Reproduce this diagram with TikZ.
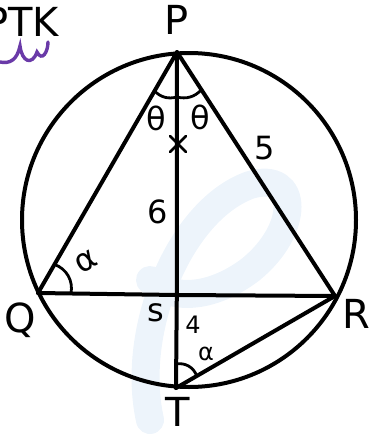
\documentclass[tikz,border=0pt]{standalone}
\usepackage{fontspec}
\setmainfont{DejaVu Sans}
\usetikzlibrary{calc}
\definecolor{wm}{HTML}{EDF4FB}
\definecolor{purp}{HTML}{6A3AA8}
\tikzset{
  ink/.style={line width=4pt, line cap=round, line join=round, black},
  lab/.style={font=\fontsize{40}{40}\selectfont, inner sep=0pt},
  smlab/.style={font=\fontsize{32}{32}\selectfont, inner sep=0pt},
  tinylab/.style={font=\fontsize{24}{24}\selectfont, inner sep=0pt},
  ang/.style={line width=2.8pt, line cap=round, black}
}
\begin{document}
\begin{tikzpicture}[x=1pt,y=-1pt]
\useasboundingbox (0,0) rectangle (375,439);
\clip (0,0) rectangle (375,439);
% watermark
\draw[wm, line width=28pt, line cap=round]
  (150,420) .. controls (130,330) and (180,210) .. (250,185)
  .. controls (300,170) and (300,230) .. (250,270)
  .. controls (210,300) and (170,300) .. (150,280);
% points
\coordinate (C) at (189,220);
\coordinate (P) at (177,52);
\coordinate (Q) at (38,293);
\coordinate (R) at (335,296);
\coordinate (T) at (176,388);
\coordinate (S) at (176.8,295);
% circle
\draw[ink] (C) circle (167);
% lines
\draw[ink] (Q) -- (P) -- (R);
\draw[ink] (Q) -- (S) -- (R);
\draw[ink] (P) -- (S) -- (T);
\draw[ink] (T) -- (R);
% angle arcs
\draw[ang] ($(P)!45pt!(Q)$) to[bend right=30] ($(P)!45pt!(T)$);
\draw[ang] ($(P)!45pt!(T)$) to[bend right=30] ($(P)!45pt!(R)$);
\draw[ang] ($(Q)!33pt!(P)$) to[bend left=40] ($(Q)!33pt!(R)$);
\draw[ang] ($(T)!24pt!(P)$) to[bend left=40] ($(T)!24pt!(R)$);
% x mark
\draw[ang] (170,136) -- (186,152);
\draw[ang] (186,136) -- (170,152);
% labels
\node[lab] (lP) at (177,20) {P};
\node[lab] (lQ) at (20,320) {Q};
\node[lab] (lR) at (356,314) {R};
\node[lab] (lT) at (178,412) {T};
\node[smlab] (l5) at (265,148) {5};
\node[smlab] (l6) at (158,212) {6};
\node[smlab] (ls) at (156,313) {s};
\node[tinylab] (l4) at (193,325) {4};
\node[tinylab] (la2) at (206,354) {α};
\node[smlab] (lt1) at (156,118) {θ};
\node[smlab] (lt2) at (200,117) {θ};
\node[smlab, rotate=30] (la1) at (86,262) {α};
\node[lab, anchor=west] (ptk) at (-16,22) {PTK};
\draw[purp, line width=3.4pt, line cap=round]
  (0,62) .. controls (10,64) and (17,60) .. (20,46)
  .. controls (22,62) and (32,66) .. (37,52)
  .. controls (42,62) and (48,52) .. (48,42);
\end{tikzpicture}
\end{document}
